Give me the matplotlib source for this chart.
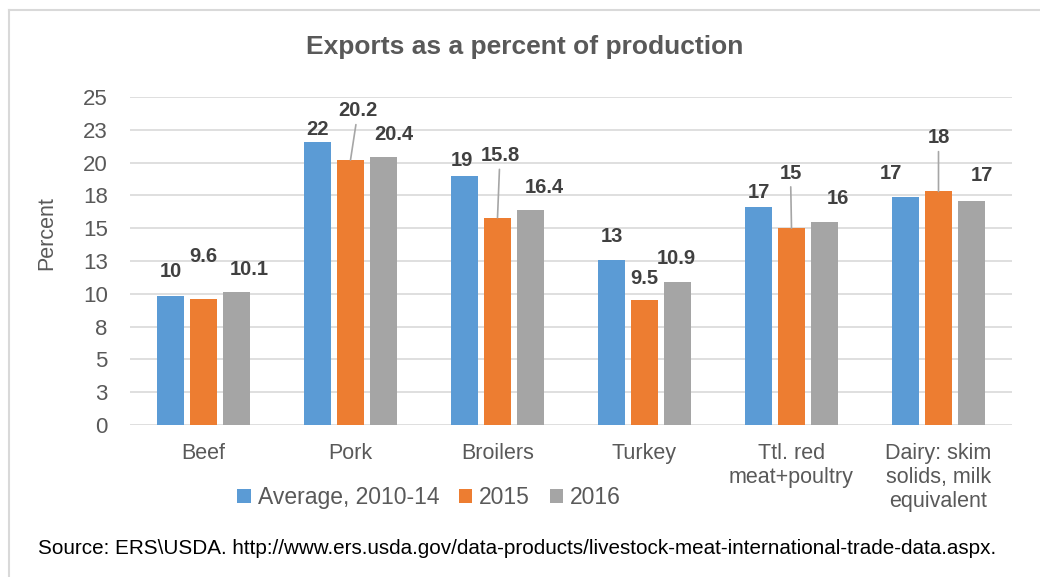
import numpy as np
import matplotlib.pyplot as plt
from matplotlib.lines import Line2D

categories = ["Beef", "Pork", "Broilers", "Turkey", "Ttl. red\nmeat+poultry",
              "Dairy: skim\nsolids, milk\nequivalent"]
series_names = ["Average, 2010-14", "2015", "2016"]
avg_vals = [9.85, 21.6, 19.0, 12.6, 16.6, 17.4]
y2015_vals = [9.6, 20.2, 15.8, 9.5, 15.0, 17.8]
y2016_vals = [10.1, 20.4, 16.4, 10.9, 15.5, 17.1]
avg_labels = ["10", "22", "19", "13", "17", "17"]
y2015_labels = ["9.6", "20.2", "15.8", "9.5", "15", "18"]
y2016_labels = ["10.1", "20.4", "16.4", "10.9", "16", "17"]
yticks = [0, 2.5, 5, 7.5, 10, 12.5, 15, 17.5, 20, 22.5, 25]
ytick_labels = ["0", "3", "5", "8", "10", "13", "15", "18", "20", "23", "25"]

colors = ["#5b9bd5", "#ed7d31", "#a5a5a5"]

# label offsets from bar top, in pixels (dx, dy up)
offsets = [
    [(0, 24), (0, 12), (-2.5, 15.5), (0, 23), (0, 15), (-14.5, 23)],
    [(0, 43), (7.5, 49), (2.5, 62), (0, 22), (-1, 55), (0, 53.5)],
    [(12.5, 23), (10.5, 23), (13.5, 22.5), (-1, 23), (13, 23), (10.5, 25)],
]
leader = [False, True, True, False, True, True]

dpi = 100
fig = plt.figure(figsize=(10.4, 5.77), dpi=dpi)
ax = fig.add_axes([130 / 1040, 1 - 425 / 577, 882 / 1040, 328 / 577])

x = np.arange(len(categories))
width = 0.177
step = 0.2245
all_vals = [avg_vals, y2015_vals, y2016_vals]
all_labels = [avg_labels, y2015_labels, y2016_labels]

handles = []
for s in range(3):
    xs = x + (s - 1) * step
    b = ax.bar(xs, all_vals[s], width, color=colors[s], zorder=3, label=series_names[s])
    handles.append(b)
    for i in range(len(categories)):
        dx, dy = offsets[s][i]
        kw = {}
        if s == 1 and leader[i]:
            kw["arrowprops"] = dict(arrowstyle='-', color='#a6a6a6', lw=1.2,
                                    shrinkA=1, shrinkB=0)
        ax.annotate(all_labels[s][i], xy=(xs[i], all_vals[s][i]),
                    xytext=(dx * 72 / dpi, dy * 72 / dpi), textcoords='offset points',
                    ha='center', va='center', fontsize=14.5, fontweight='bold',
                    color='#404040', family='Liberation Sans', zorder=5, **kw)

ax.set_xlim(-0.5, len(categories) - 0.5)
ax.set_ylim(0, 25)
ax.set_yticks(yticks)
ax.set_yticklabels(ytick_labels)
ax.set_xticks(x)
ax.set_xticklabels(categories, linespacing=1.18)
ax.tick_params(axis='y', length=0, pad=16, labelsize=16, labelcolor='#595959')
ax.tick_params(axis='x', length=0, pad=13, labelsize=15.5, labelcolor='#595959')
for lab in ax.get_xticklabels() + ax.get_yticklabels():
    lab.set_family('Liberation Sans')
ax.grid(axis='y', color='#d9d9d9', lw=1.2, zorder=0)
for sp in ax.spines.values():
    sp.set_visible(False)

fig.text(46.5 / 1040, 1 - 233 / 577, "Percent", rotation=90, ha='center', va='center',
         fontsize=15.5, color='#595959', family='Liberation Sans')
fig.text(525 / 1040, 1 - 47 / 577, "Exports as a percent of production", ha='center',
         va='center', fontsize=19, fontweight='bold', color='#595959',
         family='Liberation Sans')

leg = fig.legend(handles=handles, loc='center left',
                 bbox_to_anchor=(237 / 1040, 1 - 497.5 / 577), ncol=3, frameon=False,
                 handlelength=0.6, handleheight=0.6, handletextpad=0.3,
                 columnspacing=0.85, borderpad=0, borderaxespad=0,
                 prop={'family': 'Liberation Sans', 'size': 16.5})
for t in leg.get_texts():
    t.set_color('#595959')

fig.text(38 / 1040, 1 - 549 / 577,
         "Source: ERS\\USDA. http://www.ers.usda.gov/data-products/livestock-meat-international-trade-data.aspx.",
         ha='left', va='center', fontsize=14.9, color='#000000', family='Liberation Sans')

# chart frame (top and left edges)
fig.add_artist(Line2D([9 / 1040, 1], [1 - 10 / 577, 1 - 10 / 577], color='#d9d9d9', lw=1.5))
fig.add_artist(Line2D([9 / 1040, 9 / 1040], [0, 1 - 10 / 577], color='#d9d9d9', lw=1.5))

fig.savefig("out.png", dpi=dpi)
